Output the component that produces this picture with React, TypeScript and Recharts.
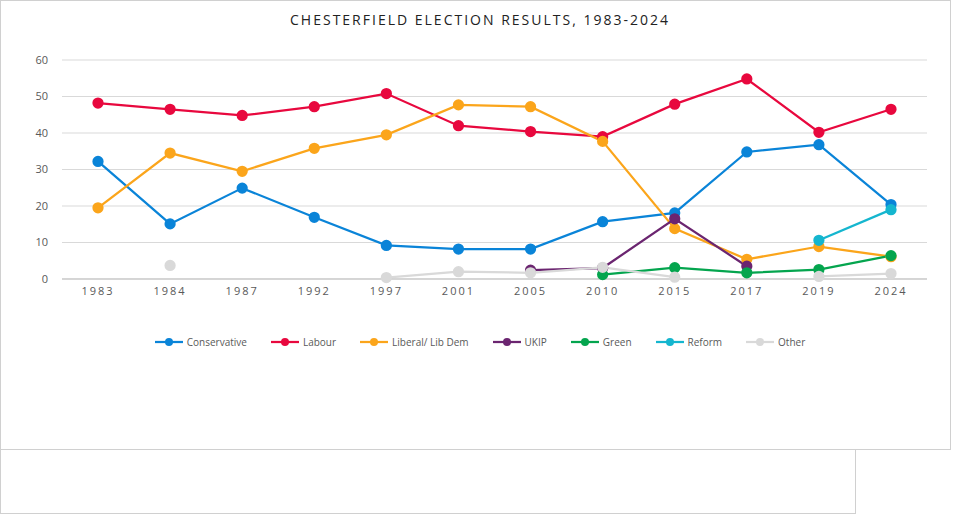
import React from "react";
import { LineChart, Line, XAxis, YAxis, CartesianGrid } from "recharts";

const years = ["1983", "1984", "1987", "1992", "1997", "2001", "2005", "2010", "2015", "2017", "2019", "2024"];
const conservative = [32.2, 15.1, 24.9, 16.9, 9.2, 8.2, 8.2, 15.7, 18.1, 34.8, 36.8, 20.4];
const labour = [48.2, 46.5, 44.8, 47.2, 50.8, 42.0, 40.4, 39.0, 47.9, 54.8, 40.2, 46.5];
const libDem = [19.5, 34.5, 29.5, 35.8, 39.5, 47.7, 47.2, 37.7, 13.8, 5.4, 8.9, 6.1];
const ukip = [null, null, null, null, null, null, 2.4, 3.0, 16.5, 3.5, null, null];
const green = [null, null, null, null, null, null, null, 1.2, 3.1, 1.7, 2.6, 6.4];
const reform = [null, null, null, null, null, null, null, null, null, null, 10.6, 19.0];
const other = [null, 3.7, null, null, 0.4, 2.0, 1.7, 3.2, 0.5, null, 0.7, 1.5];

const series = [
  { key: "Conservative", values: conservative, color: "#0a84d8" },
  { key: "Labour", values: labour, color: "#e8083e" },
  { key: "Liberal/ Lib Dem", values: libDem, color: "#fba51b" },
  { key: "UKIP", values: ukip, color: "#6b2570" },
  { key: "Green", values: green, color: "#04a54e" },
  { key: "Reform", values: reform, color: "#15b6cf" },
  { key: "Other", values: other, color: "#d9d9d9" },
];

const data = years.map((year, i) => {
  const row: Record<string, string | number | null> = { year };
  series.forEach((s) => (row[s.key] = s.values[i]));
  return row;
});

const font = "'Open Sans', 'Noto Sans', sans-serif";

export default function App() {
  return (
    <div style={{ position: "absolute", left: 0, top: 0, width: 960, height: 514, background: "#fff", fontFamily: font }}>
      <div style={{ position: "absolute", left: 0, top: 0, width: 951, height: 450, border: "1px solid #d0d0d0", boxSizing: "border-box" }} />
      <div style={{ position: "absolute", left: 0, top: 450, width: 856, height: 64, border: "1px solid #d0d0d0", borderTop: "none", boxSizing: "border-box" }} />
      <div style={{ position: "absolute", top: 10, width: 960, textAlign: "center", fontSize: 14, letterSpacing: 2, color: "#222" }}>
        CHESTERFIELD ELECTION RESULTS, 1983-2024
      </div>
      <div style={{ position: "absolute", left: 0, top: 0 }}>
        <LineChart width={960} height={310} data={data} margin={{ top: 60, right: 33, left: 0, bottom: 0 }}>
          <CartesianGrid vertical={false} stroke="#d9d9d9" />
          <XAxis dataKey="year" stroke="#bfbfbf" tickLine={false} padding={{ left: 36, right: 36 }} tick={{ fill: "#595959", fontSize: 11, letterSpacing: 2 }} height={31} />
          <YAxis domain={[0, 60]} ticks={[0, 10, 20, 30, 40, 50, 60]} axisLine={false} tickLine={false} width={62} tick={{ fill: "#595959", fontSize: 11, dx: -6 }} />
          {series.map((s) => (
            <Line
              key={s.key}
              dataKey={s.key}
              stroke={s.color}
              strokeWidth={2.25}
              dot={{ r: 4.5, fill: s.color, stroke: s.color }}
              isAnimationActive={false}
            />
          ))}
        </LineChart>
      </div>
      <div style={{ position: "absolute", top: 335, width: 960, display: "flex", justifyContent: "center", gap: 24, fontSize: 10, color: "#595959" }}>
        {series.map((s) => (
          <div key={s.key} style={{ display: "flex", alignItems: "center", gap: 4 }}>
            <svg width={28} height={10}>
              <line x1={0} y1={5} x2={28} y2={5} stroke={s.color} strokeWidth={2.25} />
              <circle cx={14} cy={5} r={4} fill={s.color} />
            </svg>
            <span>{s.key}</span>
          </div>
        ))}
      </div>
    </div>
  );
}
